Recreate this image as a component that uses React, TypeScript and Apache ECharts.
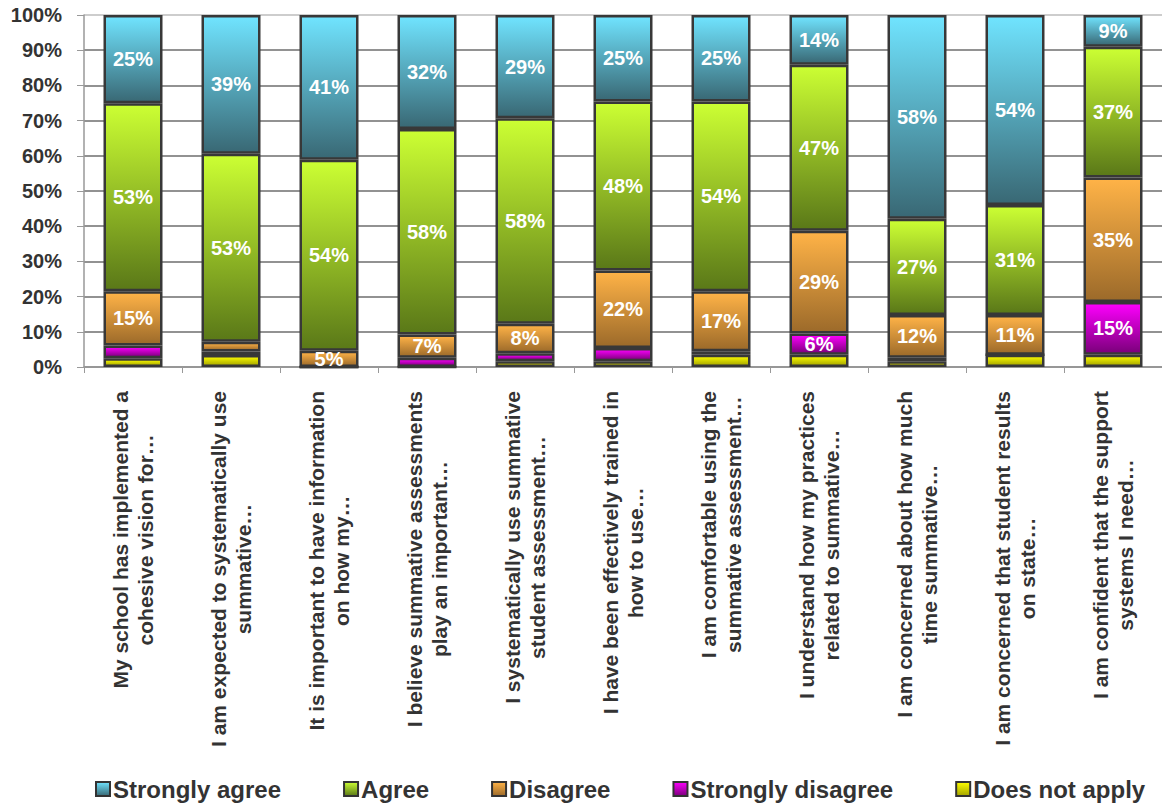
import React, { useEffect, useRef } from 'react';
import * as echarts from 'echarts';

const categories = [
  'My school has implemented a\ncohesive vision for…',
  'I am expected to systematically use\nsummative…',
  'It is important to have information\non how my…',
  'I believe summative assessments\nplay an important…',
  'I systematically use summative\nstudent assessment…',
  'I have been effectively trained in\nhow to use…',
  'I am comfortable using the\nsummative assessment…',
  'I understand how my practices\nrelated to summative…',
  'I am concerned about how much\ntime summative…',
  'I am concerned that student results\non state…',
  'I am confident that the support\nsystems I need…',
];

const doesNotApply = [2.5, 3.4, 0, 0, 1.6, 1.6, 3.5, 3.5, 1.6, 3.5, 3.5];
const stronglyDisagree = [3.6, 1, 0, 2.6, 2.3, 3.8, 1, 6, 1, 0, 15];
const disagree = [15.4, 2.8, 4.6, 6.6, 8.4, 22, 17, 29.2, 12.2, 11.3, 35.3];
const agree = [53.4, 53.4, 54.3, 58.4, 58.4, 48, 53.9, 47.2, 27.3, 31.2, 37.2];
const stronglyAgree = [25.1, 39.4, 41.1, 32.4, 29.3, 24.6, 24.6, 14.1, 57.9, 54, 9];

const yTicks = [0, 10, 20, 30, 40, 50, 60, 70, 80, 90, 100];

export default function App() {
  const ref = useRef<HTMLDivElement>(null);
  useEffect(() => {
    document.body.style.margin = '0';
    const chart = echarts.init(ref.current!, null, { renderer: 'svg' });
    const font = "'Liberation Sans', Arial, sans-serif";
    const grad = (top: string, bottom: string) =>
      new echarts.graphic.LinearGradient(0, 0, 0, 1, [
        { offset: 0, color: top },
        { offset: 1, color: bottom },
      ]);
    const mk = (name: string, data: number[], top: string, bottom: string) => ({
      name,
      type: 'bar',
      stack: 'total',
      data,
      barWidth: 59,
      itemStyle: { color: grad(top, bottom), borderColor: '#383838', borderWidth: 2.5 },
      label: {
        show: true,
        position: 'inside',
        color: '#ffffff',
        fontFamily: font,
        fontWeight: 'bold',
        fontSize: 20,
        formatter: (p: any) => (Math.round(p.value) >= 5 ? Math.round(p.value) + '%' : ''),
      },
      emphasis: { disabled: true },
    });
    const splitColors = yTicks.map((t) => (t === 100 ? '#bdbdbd' : '#6e6e6e'));
    chart.setOption({
      animation: false,
      grid: { left: 84, top: 15, width: 1085, height: 352 },
      legend: {
        data: ['Strongly agree', 'Agree', 'Disagree', 'Strongly disagree', 'Does not apply'],
        left: 90,
        top: 772,
        width: 1072,
        itemGap: 62,
        itemWidth: 14,
        itemHeight: 14,
        icon: 'rect',
        itemStyle: { borderColor: '#333', borderWidth: 2 },
        textStyle: { fontFamily: font, fontWeight: 'bold', fontSize: 24, color: '#333', padding: [0, 0, 0, -2] },
      },
      xAxis: {
        type: 'category',
        data: categories,
        axisLine: { lineStyle: { color: '#999', width: 1.5 } },
        axisTick: { show: true, length: 6, lineStyle: { color: '#999' } },
        axisLabel: {
          rotate: 90,
          interval: 0,
          margin: 24,
          formatter: (v: string) => v.split('\n').map((s) => `{c|${s}}`).join('\n'),
          rich: {
            c: {
              align: 'center',
              fontSize: 21,
              fontWeight: 'bold',
              color: '#333',
              fontFamily: font,
              lineHeight: 25,
            },
          },
        },
      },
      yAxis: {
        type: 'value',
        min: 0,
        max: 100,
        interval: 10,
        axisLine: { show: true, lineStyle: { color: '#999', width: 1.5 } },
        axisTick: { show: true, length: 7, lineStyle: { color: '#999' } },
        axisLabel: {
          formatter: '{value}%',
          margin: 22,
          fontFamily: font,
          fontWeight: 'bold',
          fontSize: 20,
          color: '#333',
        },
        splitLine: { show: true, lineStyle: { color: splitColors, width: 1.5 } },
      },
      series: [
        mk('Does not apply', doesNotApply, '#ffff00', '#a3a300'),
        mk('Strongly disagree', stronglyDisagree, '#ff00ff', '#7a007a'),
        mk('Disagree', disagree, '#ffb347', '#9c6a2a'),
        mk('Agree', agree, '#ccff33', '#5a7818'),
        mk('Strongly agree', stronglyAgree, '#70e4ff', '#396874'),
      ],
    });
    return () => chart.dispose();
  }, []);
  return (
    <div
      ref={ref}
      style={{ position: 'absolute', left: 0, top: 0, width: 1162, height: 804 }}
    />
  );
}
